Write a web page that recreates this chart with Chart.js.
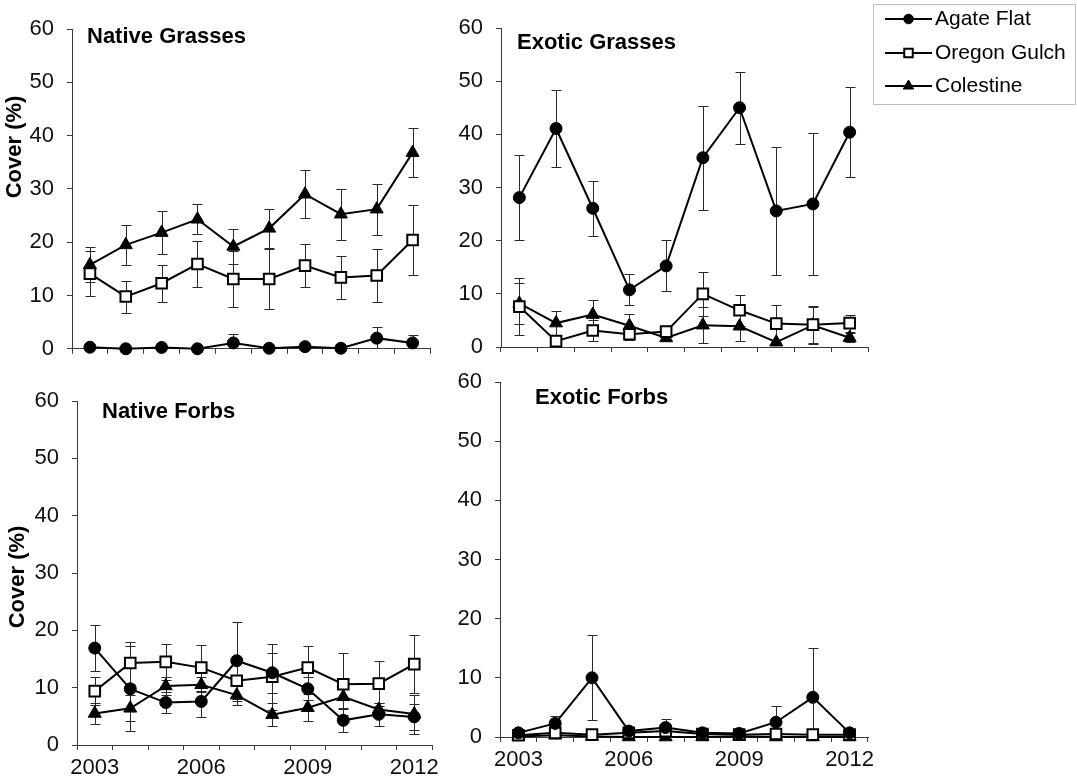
<!DOCTYPE html>
<html>
<head>
<meta charset="utf-8">
<script src="https://cdn.jsdelivr.net/npm/chart.js@4.4.0/dist/chart.umd.min.js"></script>
<style>
html,body{margin:0;padding:0;background:#ffffff;}
body{width:1077px;height:782px;position:relative;overflow:hidden;}
canvas{position:absolute;}
</style>
</head>
<body>
<canvas id="cTL" width="440" height="375" style="left:0px;top:0px;width:440px;height:375px;"></canvas>
<canvas id="cTR" width="637" height="375" style="left:440px;top:0px;width:637px;height:375px;"></canvas>
<canvas id="cBL" width="445" height="427" style="left:0px;top:355px;width:445px;height:427px;"></canvas>
<canvas id="cBR" width="632" height="427" style="left:445px;top:355px;width:632px;height:427px;"></canvas>
<script>
// ---------------- data ----------------
const years = ['2003','2004','2005','2006','2007','2008','2009','2010','2011','2012'];
const shownYears = ['2003','2006','2009','2012'];
const siteNames = ['Agate Flat','Oregon Gulch','Colestine'];
const panelTitles = ['Native Grasses','Exotic Grasses','Native Forbs','Exotic Forbs'];
const yAxisTitle = 'Cover (%)';
const yMin = 0, yMax = 60, yStep = 10;

// Native Grasses
const ngAgate        = [0.3, 0.0, 0.25, 0.0, 1.1, 0.1, 0.4, 0.1, 2.0, 1.1];
const ngAgateErr     = [0.3, 0.1, 0.2, 0.1, 1.6, 0.2, 0.3, 0.1, 2.1, 1.4];
const ngOregon       = [14.1, 9.8, 12.3, 15.9, 13.1, 13.1, 15.6, 13.4, 13.75, 20.4];
const ngOregonErr    = [4.2, 3.0, 3.5, 4.3, 5.2, 5.6, 4.0, 4.1, 4.9, 6.6];
const ngColestine    = [15.75, 19.5, 21.8, 24.3, 19.2, 22.6, 29.0, 25.25, 26.2, 36.8];
const ngColestineErr = [3.3, 3.7, 4.0, 2.8, 3.2, 3.7, 4.5, 4.8, 4.8, 4.6];

// Exotic Grasses
const egAgate        = [28.1, 41.1, 26.1, 10.75, 15.25, 35.6, 45.0, 25.6, 26.9, 40.4];
const egAgateErr     = [8.0, 7.2, 5.2, 2.9, 4.8, 9.8, 6.8, 12.1, 13.4, 8.5];
const egOregon       = [7.6, 1.1, 3.1, 2.4, 2.9, 10.0, 6.9, 4.4, 4.2, 4.5];
const egOregonErr    = [5.3, 0.7, 1.9, 1.0, 0.8, 4.2, 2.9, 3.5, 3.5, 1.6];
const egColestine    = [8.2, 4.5, 6.1, 4.0, 1.7, 4.1, 3.9, 0.9, 4.1, 1.75];
const egColestineErr = [3.8, 2.2, 2.8, 2.2, 0.6, 3.4, 2.8, 0.5, 3.5, 0.9];

// Native Forbs
const nfAgate        = [16.9, 9.8, 7.4, 7.6, 14.7, 12.6, 9.8, 4.3, 5.35, 4.9];
const nfAgateErr     = [4.0, 7.4, 1.8, 2.7, 6.7, 3.5, 2.0, 2.1, 2.0, 2.3];
const nfOregon       = [9.4, 14.3, 14.5, 13.5, 11.2, 11.9, 13.5, 10.6, 10.7, 14.1];
const nfOregonErr    = [2.5, 3.6, 3.2, 4.0, 3.5, 5.8, 3.8, 5.4, 3.9, 5.0];
const nfColestine    = [5.5, 6.4, 10.3, 10.5, 8.7, 5.3, 6.5, 8.4, 6.2, 5.4];
const nfColestineErr = [1.8, 2.3, 1.5, 1.3, 1.8, 2.0, 2.4, 2.2, 1.2, 3.4];

// Exotic Forbs
const efAgate        = [0.7, 2.3, 10.0, 1.0, 1.6, 0.7, 0.6, 2.5, 6.7, 0.7];
const efAgateErr     = [0.3, 1.3, 7.2, 0.3, 1.4, 0.2, 0.2, 2.7, 8.4, 0.2];
const efOregon       = [0.3, 0.7, 0.4, 0.7, 1.0, 0.5, 0.4, 0.5, 0.4, 0.4];
const efOregonErr    = [0.2, 0.3, 0.2, 0.3, 0.3, 0.2, 0.2, 0.2, 0.2, 0.2];
const efColestine    = [0.1, 0.3, 0.1, 0.0, 0.0, 0.0, 0.1, 0.0, 0.0, 0.0];
const efColestineErr = [0.1, 0.1, 0.1, 0.0, 0.0, 0.0, 0.1, 0.0, 0.0, 0.0];

// ---------------- styles ----------------
const FONT = "'Liberation Sans', Arial, Helvetica, sans-serif";
const axisColor = '#3a3a3a';
const textColor = '#111111';
const errColor = '#2a2a2a';
const capHalf = 5;

const siteStyles = [
  {pointStyle: 'circle',   radius: 6,   bg: '#000000', bw: 1},
  {pointStyle: 'rect',     radius: 7.5, bg: '#ffffff', bw: 2},
  {pointStyle: 'triangle', radius: 7.5, bg: '#000000', bw: 1}
];

function drawMarker(ctx, style, x, y, r, bg, bw) {
  ctx.save();
  ctx.beginPath();
  if (style === 'circle') {
    ctx.arc(x, y, r, 0, Math.PI * 2);
  } else if (style === 'rect') {
    const s = r * Math.SQRT1_2;
    ctx.rect(x - s, y - s, 2 * s, 2 * s);
  } else {
    let rad = 0;
    const T = Math.PI * 2 / 3;
    ctx.moveTo(x + Math.sin(rad) * r, y - Math.cos(rad) * r); rad += T;
    ctx.lineTo(x + Math.sin(rad) * r, y - Math.cos(rad) * r); rad += T;
    ctx.lineTo(x + Math.sin(rad) * r, y - Math.cos(rad) * r);
    ctx.closePath();
  }
  ctx.fillStyle = bg; ctx.fill();
  ctx.lineWidth = bw; ctx.strokeStyle = '#000000'; ctx.stroke();
  ctx.restore();
}

// error bars drawn from the y scale of each chart
const errorBarsPlugin = {
  id: 'errorBars',
  beforeDatasetsDraw(chart) {
    const ctx = chart.ctx, a = chart.chartArea, ys = chart.scales.y;
    ctx.save();
    ctx.beginPath();
    ctx.rect(a.left - 10, a.top - 10, a.right - a.left + 20, a.bottom - a.top + 10);
    ctx.clip();
    ctx.strokeStyle = errColor;
    ctx.lineWidth = 1;
    chart.data.datasets.forEach((ds, di) => {
      const meta = chart.getDatasetMeta(di);
      if (!ds.errorBars) return;
      meta.data.forEach((el, i) => {
        const v = ds.data[i], e = ds.errorBars[i];
        if (!e) return;
        const x = Math.round(el.x) + 0.5;
        const yHi = Math.round(ys.getPixelForValue(v + e)) + 0.5;
        const yLo = Math.round(ys.getPixelForValue(v - e)) + 0.5;
        ctx.beginPath();
        ctx.moveTo(x, yHi); ctx.lineTo(x, yLo);
        ctx.moveTo(x - capHalf, yHi); ctx.lineTo(x + capHalf, yHi);
        ctx.moveTo(x - capHalf, yLo); ctx.lineTo(x + capHalf, yLo);
        ctx.stroke();
      });
    });
    ctx.restore();
  }
};

// panel title and y axis title
const panelTextPlugin = {
  id: 'panelText',
  afterDraw(chart, args, opts) {
    const ctx = chart.ctx;
    ctx.save();
    ctx.fillStyle = '#000000';
    if (opts.title) {
      ctx.font = 'bold 22px ' + FONT;
      ctx.textAlign = 'left';
      ctx.textBaseline = 'middle';
      ctx.fillText(opts.title, opts.titleX, opts.titleY);
    }
    if (opts.yLabel) {
      ctx.font = 'bold 22px ' + FONT;
      ctx.translate(opts.yLabelX, opts.yLabelY);
      ctx.rotate(-Math.PI / 2);
      ctx.textAlign = 'center';
      ctx.textBaseline = 'middle';
      ctx.fillText(opts.yLabel, 0, 0);
    }
    ctx.restore();
  }
};

// legend with line + marker
const lineLegendPlugin = {
  id: 'lineLegend',
  afterDraw(chart, args, opts) {
    if (!opts.show) return;
    const ctx = chart.ctx;
    ctx.save();
    ctx.strokeStyle = '#bdbdbd';
    ctx.lineWidth = 1;
    ctx.strokeRect(opts.x + 0.5, opts.y + 0.5, opts.w, opts.h);
    chart.data.datasets.forEach((ds, i) => {
      const cy = opts.rowY[i];
      ctx.beginPath();
      ctx.strokeStyle = '#000000';
      ctx.lineWidth = 2;
      ctx.moveTo(opts.lineX0, cy); ctx.lineTo(opts.lineX1, cy);
      ctx.stroke();
      const st = siteStyles[i];
      drawMarker(ctx, st.pointStyle, (opts.lineX0 + opts.lineX1) / 2, cy, st.radius * 0.8, st.bg, st.bw);
      ctx.fillStyle = '#000000';
      ctx.font = '21px ' + FONT;
      ctx.textAlign = 'left';
      ctx.textBaseline = 'middle';
      ctx.fillText(ds.label, opts.textX, cy);
    });
    ctx.restore();
  }
};

function makeDatasets(series, errs) {
  return series.map((vals, i) => ({
    label: siteNames[i],
    data: vals,
    errorBars: errs[i],
    borderColor: '#000000',
    borderWidth: 2,
    pointStyle: siteStyles[i].pointStyle,
    pointRadius: siteStyles[i].radius,
    pointBackgroundColor: siteStyles[i].bg,
    pointBorderColor: '#000000',
    pointBorderWidth: siteStyles[i].bw,
    tension: 0,
    fill: false,
    clip: false
  }));
}

function makePanel(id, canvasBox, plot, series, errs, text, showXLabels, legend) {
  const yW = plot.l - canvasBox.left;
  const xH = (canvasBox.top + canvasBox.h) - plot.b;
  const padTop = plot.t - canvasBox.top;
  const padRight = canvasBox.w - (plot.r - canvasBox.left);
  return new Chart(document.getElementById(id), {
    type: 'line',
    data: { labels: years, datasets: makeDatasets(series, errs) },
    options: {
      responsive: false,
      devicePixelRatio: 1,
      animation: false,
      events: [],
      layout: { padding: { top: padTop, right: padRight, left: 0, bottom: 0 } },
      plugins: {
        legend: { display: false },
        tooltip: { enabled: false },
        title: { display: false },
        panelText: text,
        lineLegend: legend || { show: false }
      },
      scales: {
        x: {
          type: 'category',
          offset: true,
          grid: { offset: true, drawOnChartArea: false, drawTicks: true, tickLength: 5, color: axisColor, lineWidth: 1 },
          border: { display: true, color: axisColor, width: 1 },
          ticks: {
            display: showXLabels,
            autoSkip: false,
            maxRotation: 0,
            minRotation: 0,
            padding: 5,
            color: textColor,
            font: { family: FONT, size: 22 },
            callback: function (v, i) { return shownYears.includes(years[i]) ? years[i] : ''; }
          },
          afterFit: function (s) { s.height = xH; }
        },
        y: {
          min: yMin, max: yMax,
          grid: { drawOnChartArea: false, drawTicks: true, tickLength: 5, color: axisColor, lineWidth: 1 },
          border: { display: true, color: axisColor, width: 1 },
          ticks: { stepSize: yStep, padding: 13, color: textColor, font: { family: FONT, size: 22 } },
          afterFit: function (s) { s.width = yW; }
        }
      }
    },
    plugins: [errorBarsPlugin, panelTextPlugin, lineLegendPlugin]
  });
}

// Top-left: Native Grasses
makePanel('cTL', {left: 0, top: 0, w: 440, h: 375}, {l: 72, t: 29, r: 438, b: 349},
  [ngAgate, ngOregon, ngColestine], [ngAgateErr, ngOregonErr, ngColestineErr],
  {title: panelTitles[0], titleX: 87, titleY: 37, yLabel: yAxisTitle, yLabelX: 15, yLabelY: 147}, false);

// Top-right: Exotic Grasses (with legend)
makePanel('cTR', {left: 440, top: 0, w: 637, h: 375}, {l: 501, t: 28, r: 868, b: 347},
  [egAgate, egOregon, egColestine], [egAgateErr, egOregonErr, egColestineErr],
  {title: panelTitles[1], titleX: 517 - 440, titleY: 43}, false,
  {show: true, x: 873 - 440, y: 4, w: 202, h: 100, rowY: [19, 53, 86], lineX0: 885 - 440, lineX1: 932 - 440, textX: 935 - 440});

// Bottom-left: Native Forbs
makePanel('cBL', {left: 0, top: 355, w: 445, h: 427}, {l: 77, t: 401, r: 432, b: 745},
  [nfAgate, nfOregon, nfColestine], [nfAgateErr, nfOregonErr, nfColestineErr],
  {title: panelTitles[2], titleX: 102, titleY: 412 - 355, yLabel: yAxisTitle, yLabelX: 18, yLabelY: 577 - 355}, true);

// Bottom-right: Exotic Forbs
makePanel('cBR', {left: 445, top: 355, w: 632, h: 427}, {l: 500, t: 382, r: 868, b: 737},
  [efAgate, efOregon, efColestine], [efAgateErr, efOregonErr, efColestineErr],
  {title: panelTitles[3], titleX: 535 - 445, titleY: 398 - 355}, true);
</script>
</body>
</html>
